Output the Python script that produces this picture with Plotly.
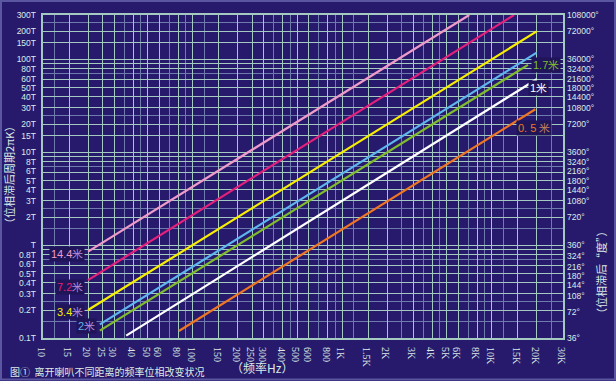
import math
import plotly.graph_objects as go

# ---------------- data ----------------
distances = ["14.4", "7.2", "3.4", "2", "1.7", "1", "0.5"]
line_colors = ["#f09ccb", "#e3207c", "#f7ef00", "#5fb6ee", "#7fbd2c", "#ffffff", "#ef7622"]
freq_start = [20, 20, 20, 24, 24, 36, 81]
freq_end = [7080, 14100, 20000, 20000, 17500, 20000, 19600]
periods_start = [0.85, 0.42, 0.20, 0.14, 0.12, 0.106, 0.119]
periods_end = [300, 300, 200, 118, 87, 61, 29]

x_tick_vals = [10, 15, 20, 25, 30, 40, 50, 60, 80, 100, 150, 200, 250, 300, 400, 500, 600, 800,
               1000, 1500, 2000, 3000, 4000, 5000, 6000, 8000, 10000, 15000, 20000, 30000]
x_tick_text = ["10", "15", "20", "25", "30", "40", "50", "60", "80", "100", "150", "200", "250", "300",
               "400", "500", "600", "800", "1K", "1.5K", "2K", "3K", "4K", "5K", "6K", "8K", "10K",
               "15K", "20K", "30K"]
x_minor_vals = [12, 35, 45, 70, 90, 120, 350, 450, 700, 900, 1200, 2500, 3500, 4500, 7000, 9000, 12000, 25000]

# horizontal grid lines (period values, T)
y_grid_vals = [0.1, 0.2, 0.3, 0.4, 0.5, 0.6, 0.8, 0.9, 1, 2, 3, 4, 5, 6, 8, 9, 10, 15, 20, 30, 40, 50,
               60, 80, 90, 100, 150, 200, 300]
y_minor_vals = [0.15, 0.25, 0.7, 1.5, 2.5, 7, 25, 70, 250]

# left tick labels and where they sit (as printed, nudged apart like the original)
y_label_pos = [0.1, 0.2, 0.3, 0.39, 0.49, 0.62, 0.79, 1, 2, 3, 3.9, 4.9, 6.2, 7.9, 10, 15, 20, 30, 39,
               49, 62, 79, 100, 150, 200, 300]
y_label_text = ["0.1T", "0.2T", "0.3T", "0.4T", "0.5T", "0.6T", "0.8T", "T", "2T", "3T", "4T", "5T",
                "6T", "8T", "10T", "15T", "20T", "30T", "40T", "50T", "60T", "80T", "100T", "150T",
                "200T", "300T"]

# right tick labels (degrees) and where they sit
deg_label_pos = [0.1, 0.19, 0.285, 0.373, 0.469, 0.588, 0.755, 1, 2, 3, 3.9, 4.9, 6.2, 7.87, 10, 20,
                 30, 39, 49, 62, 78.7, 100, 200, 300]
deg_label_text = ["36°", "72°", "108°", "144°", "180°", "216°", "324°", "360°", "720°", "1080°",
                  "1440°", "1800°", "2160°", "3240°", "3600°", "7200°", "10800°", "14400°", "18000°",
                  "21600°", "32400°", "36000°", "72000°", "108000°"]

BG = "#27196c"
GRID = "#a3c9c1"
GRID2 = "#6f7bae"
TXT = "#dcebe6"

fig = go.Figure()
for d, c, f0, f1, t0, t1 in zip(distances, line_colors, freq_start, freq_end, periods_start, periods_end):
    fig.add_trace(go.Scatter(x=[f0, f1], y=[t0, t1], mode="lines",
                             line=dict(color=c, width=2.2), name=d + "米", showlegend=False))
# invisible traces so the label axes render
for ya in ["y2", "y3"]:
    fig.add_trace(go.Scatter(x=[10, 30000], y=[0.1, 300], mode="lines", line=dict(width=0),
                             yaxis=ya, showlegend=False, hoverinfo="skip", opacity=0))

xr = [1, math.log10(30000)]
yr = [-1, math.log10(300)]
tickf = dict(family="Liberation Sans", size=8.5, color=TXT)

fig.update_layout(
    width=616, height=381,
    margin=dict(l=43, r=53, t=15, b=43),
    paper_bgcolor=BG, plot_bgcolor=BG,
    showlegend=False,
    font=dict(family="Liberation Sans", color=TXT, size=10),
    xaxis=dict(type="log", range=xr, tickmode="array", tickvals=x_tick_vals, ticktext=x_tick_text,
               showgrid=True, gridcolor=GRID, gridwidth=1, showline=True, linecolor=GRID, linewidth=2,
               mirror=True, ticks="", automargin=False,
               tickfont=dict(family="Liberation Sans Narrow", size=10, color=TXT),
               minor=dict(tickmode="array", tickvals=x_minor_vals, showgrid=True, gridcolor=GRID2,
                          gridwidth=1, ticks=""),
               zeroline=False),
    yaxis=dict(type="log", range=yr, tickmode="array", tickvals=y_grid_vals, showticklabels=False,
               showgrid=True, gridcolor=GRID, gridwidth=1, showline=True, linecolor=GRID, linewidth=2,
               mirror=True, ticks="", automargin=False,
               minor=dict(tickmode="array", tickvals=y_minor_vals, showgrid=True, gridcolor=GRID2,
                          gridwidth=1, ticks=""),
               zeroline=False),
    yaxis3=dict(type="log", range=yr, overlaying="y", side="left", anchor="x", tickmode="array",
                tickvals=y_label_pos, ticktext=y_label_text, showgrid=False, ticks="",
                automargin=False, ticklabelstandoff=6, showline=False, zeroline=False,
                tickfont=tickf),
    yaxis2=dict(type="log", range=yr, overlaying="y", side="right", anchor="x", tickmode="array",
                tickvals=deg_label_pos, ticktext=deg_label_text, showgrid=False, ticks="",
                automargin=False, ticklabelstandoff=3, showline=False, zeroline=False,
                tickfont=tickf),
)

# line labels
lab_font = "Liberation Sans"
for i in [0, 1, 2, 3]:
    fig.add_annotation(x=math.log10(freq_start[i]), y=math.log10(periods_start[i]), xref="x", yref="y",
                       text=distances[i] + "<span style='color:#b48ad8'>米</span>", showarrow=False,
                       xanchor="right", yanchor="middle", xshift=-3, yshift=-2 if i != 1 else -7,
                       font=dict(color=line_colors[i], size=11, family=lab_font), bgcolor="#1f1558",
                       borderpad=1)
fig.add_annotation(x=math.log10(freq_end[4]), y=math.log10(periods_end[4]), xref="x", yref="y",
                   text=distances[4] + "米", showarrow=False, xanchor="left", yanchor="middle",
                   xshift=3, yshift=0,
                   font=dict(color=line_colors[4], size=11, family=lab_font), bgcolor="#1f1558", borderpad=1)
fig.add_annotation(x=math.log10(freq_end[5]), y=math.log10(periods_end[5]), xref="x", yref="y",
                   text=distances[5] + "米", showarrow=False, xanchor="center", yanchor="middle",
                   xshift=2, yshift=-9,
                   font=dict(color=line_colors[5], size=11, family=lab_font), bgcolor="#1f1558", borderpad=1)
fig.add_annotation(x=math.log10(freq_end[6]), y=math.log10(periods_end[6]), xref="x", yref="y",
                   text="0. 5 <span style='color:#c08060'>米</span>", showarrow=False, xanchor="center",
                   yanchor="middle", xshift=-1, yshift=-19,
                   font=dict(color=line_colors[6], size=11, family=lab_font), bgcolor="#1f1558", borderpad=1)

cjk = "Noto Sans CJK SC"
fig.add_annotation(x=(9 - 43) / 520, y=(338 - 175) / 323, xref="paper", yref="paper",
                   xanchor="center", yanchor="middle",
                   text="（位相滞后周期2πK）", textangle=-90, showarrow=False,
                   font=dict(family=cjk, size=11, color=TXT))
fig.add_annotation(x=(601 - 43) / 520, y=(338 - 272) / 323, xref="paper", yref="paper",
                   xanchor="center", yanchor="middle",
                   text="（位相滞后“度”）", textangle=-90, showarrow=False,
                   font=dict(family=cjk, size=11, color=TXT))
fig.add_annotation(x=(262 - 43) / 520, y=(338 - 367) / 323, xref="paper", yref="paper",
                   xanchor="center", yanchor="middle",
                   text="（频率Hz）", showarrow=False, font=dict(family=cjk, size=12, color=TXT))
fig.add_annotation(x=(8 - 43) / 520, y=(338 - 372) / 323, xref="paper", yref="paper", xanchor="left",
                   yanchor="middle",
                   text="图①  离开喇叭不同距离的频率位相改变状况",
                   showarrow=False, font=dict(family=cjk, size=10, color=TXT))

# outer frame
fig.add_shape(type="rect", xref="paper", yref="paper",
              x0=(1 - 43) / 520, x1=(615 - 43) / 520, y0=(338 - 379.5) / 323, y1=(338 - 1) / 323,
              line=dict(color="#5a56a0", width=2), layer="below")

fig.write_html("out.html", config={"displayModeBar": False},
               post_script="document.body.style.margin='0';document.body.style.padding='0';"
                           "document.body.style.background='" + BG + "';")
